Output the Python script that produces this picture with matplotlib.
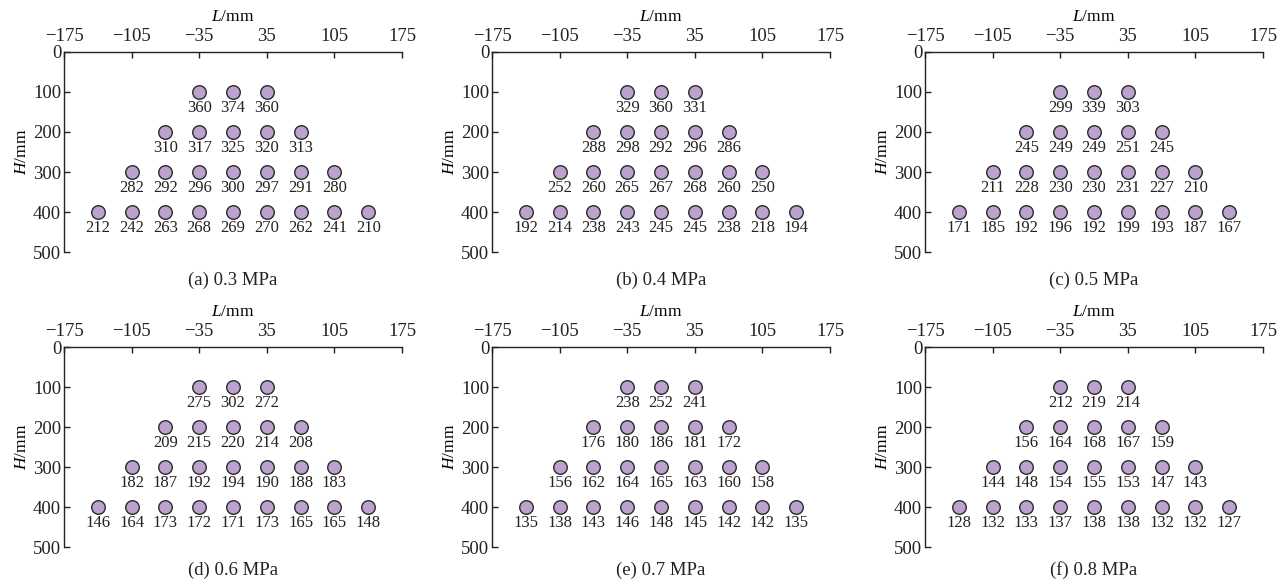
import matplotlib.pyplot as plt

plt.rcParams['font.family'] = ['Liberation Serif', 'DejaVu Serif']
plt.rcParams['mathtext.fontset'] = 'custom'
plt.rcParams['mathtext.it'] = 'Liberation Serif:italic'
plt.rcParams['mathtext.rm'] = 'Liberation Serif'

# measuring point layout (L, H in mm)
row_H = [100, 200, 300, 400]
row_L = [
    [-35, 0, 35],
    [-70, -35, 0, 35, 70],
    [-105, -70, -35, 0, 35, 70, 105],
    [-140, -105, -70, -35, 0, 35, 70, 105, 140],
]

captions = ["(a) 0.3 MPa", "(b) 0.4 MPa", "(c) 0.5 MPa",
            "(d) 0.6 MPa", "(e) 0.7 MPa", "(f) 0.8 MPa"]

vals_03 = [[360, 374, 360],
           [310, 317, 325, 320, 313],
           [282, 292, 296, 300, 297, 291, 280],
           [212, 242, 263, 268, 269, 270, 262, 241, 210]]
vals_04 = [[329, 360, 331],
           [288, 298, 292, 296, 286],
           [252, 260, 265, 267, 268, 260, 250],
           [192, 214, 238, 243, 245, 245, 238, 218, 194]]
vals_05 = [[299, 339, 303],
           [245, 249, 249, 251, 245],
           [211, 228, 230, 230, 231, 227, 210],
           [171, 185, 192, 196, 192, 199, 193, 187, 167]]
vals_06 = [[275, 302, 272],
           [209, 215, 220, 214, 208],
           [182, 187, 192, 194, 190, 188, 183],
           [146, 164, 173, 172, 171, 173, 165, 165, 148]]
vals_07 = [[238, 252, 241],
           [176, 180, 186, 181, 172],
           [156, 162, 164, 165, 163, 160, 158],
           [135, 138, 143, 146, 148, 145, 142, 142, 135]]
vals_08 = [[212, 219, 214],
           [156, 164, 168, 167, 159],
           [144, 148, 154, 155, 153, 147, 143],
           [128, 132, 133, 137, 138, 138, 132, 132, 127]]
all_vals = [vals_03, vals_04, vals_05, vals_06, vals_07, vals_08]

x_ticks = [-175, -105, -35, 35, 105, 175]
y_ticks = [0, 100, 200, 300, 400, 500]

W, H = 1284, 581
fig = plt.figure(figsize=(W / 100, H / 100), dpi=100)

lefts = [64, 492, 925]
tops = [52, 347]
cap_off = [-0.14, -0.115]
aw, ah = 338, 200

for i, vals in enumerate(all_vals):
    r, c = divmod(i, 3)
    ax = fig.add_axes([lefts[c] / W, 1 - (tops[r] + ah) / H, aw / W, ah / H])
    for hh, ls, vs in zip(row_H, row_L, vals):
        ax.scatter(ls, [hh] * len(ls), s=95, color='#bba2cf',
                   edgecolors='#2a2a2a', linewidths=1.0, zorder=3, clip_on=False)
        for l, v in zip(ls, vs):
            ax.annotate(str(v), (l, hh), xytext=(0, -11.5), textcoords='offset points',
                        ha='center', va='center', fontsize=12, color='#222222')
    ax.set_xlim(-175, 175)
    ax.set_ylim(500, 0)
    ax.set_xticks(x_ticks)
    ax.set_yticks(y_ticks)
    ax.xaxis.tick_top()
    ax.xaxis.set_label_position('top')
    ax.spines['right'].set_visible(False)
    ax.spines['bottom'].set_visible(False)
    for s in ['top', 'left']:
        ax.spines[s].set_linewidth(1.0)
        ax.spines[s].set_color('#222222')
    ax.tick_params(axis='both', direction='in', length=4, width=1.0,
                   labelsize=13.5, colors='#222222', pad=2)
    ax.tick_params(axis='x', pad=5)
    ax.set_xlabel('$L$/mm', fontsize=12.5, labelpad=5)
    ax.set_ylabel('$H$/mm', fontsize=12.5, labelpad=2)
    ax.text(0.5, cap_off[r], captions[i], transform=ax.transAxes, ha='center',
            va='center', fontsize=13.5, color='#222222')

fig.savefig('out.png', dpi=100)
